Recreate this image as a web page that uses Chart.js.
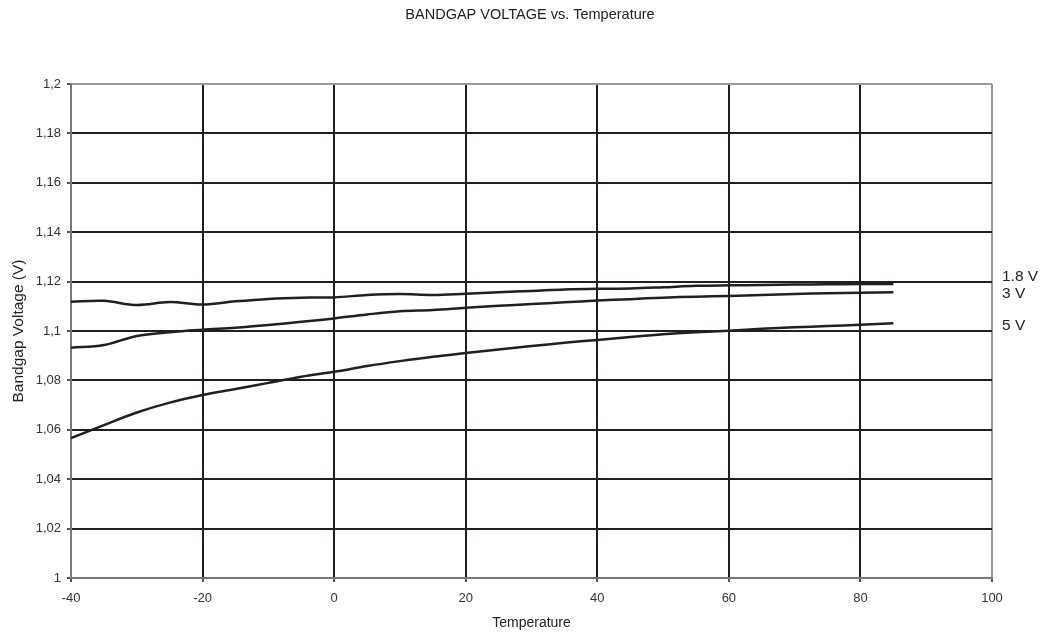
<!DOCTYPE html>
<html>
<head>
<meta charset="utf-8">
<script src="https://cdn.jsdelivr.net/npm/chart.js@4/dist/chart.umd.min.js"></script>
<style>
  html, body { margin: 0; padding: 0; background: #fff; }
  #wrap { width: 1052px; height: 635px; }
</style>
</head>
<body>
<div id="wrap"><canvas id="bandgapChart" width="1052" height="635"></canvas></div>
<script>
// temperatures (°C)
const temps = [-40, -35, -30, -25, -20, -15, -10, -5, 0, 5, 10, 15, 20, 25, 30, 35, 40, 45, 50, 55, 60, 65, 70, 75, 80, 85];

// bandgap voltage per supply
const v18 = [1.1118, 1.1122, 1.1105, 1.1117, 1.1107, 1.1120, 1.1130, 1.1135, 1.1136, 1.1146, 1.1150, 1.1146, 1.1151,
  1.1157, 1.1162, 1.1168, 1.1171, 1.1172, 1.1177, 1.1183, 1.1185, 1.1186, 1.1188, 1.1189, 1.1190, 1.1190];
const v3 = [1.0932, 1.0943, 1.0980, 1.0995, 1.1005, 1.1013, 1.1024, 1.1037, 1.1051, 1.1067, 1.1080, 1.1085, 1.1094,
  1.1102, 1.1109, 1.1116, 1.1123, 1.1129, 1.1135, 1.1139, 1.1142, 1.1146, 1.1150, 1.1153, 1.1155, 1.1157];
const v5 = [1.0566, 1.0619, 1.0670, 1.0710, 1.0741, 1.0765, 1.0790, 1.0815, 1.0835, 1.0858, 1.0878, 1.0896, 1.0911,
  1.0925, 1.0939, 1.0952, 1.0964, 1.0976, 1.0987, 1.0995, 1.1001, 1.1009, 1.1015, 1.1020, 1.1025, 1.1031];

const seriesNames = ['1.8 V', '3 V', '5 V'];
// label positions at the right edge (value on y axis)
const labelValues = [1.1219, 1.1150, 1.1023];

const xTicks = [-40, -20, 0, 20, 40, 60, 80, 100];

const FONT = 'Arial, "Liberation Sans", sans-serif';

function toPoints(ys) {
  return temps.map((t, i) => ({ x: t, y: ys[i] }));
}

// title and series labels drawn on the canvas
const textPlugin = {
  id: 'textPlugin',
  afterDraw(chart) {
    const { ctx, chartArea, scales } = chart;
    ctx.save();
    ctx.fillStyle = '#222';
    ctx.font = '14.5px ' + FONT;
    ctx.textAlign = 'center';
    ctx.textBaseline = 'middle';
    ctx.fillText('BANDGAP VOLTAGE vs. Temperature', 530, 15);

    ctx.font = '15.5px ' + FONT;
    ctx.textAlign = 'left';
    seriesNames.forEach((name, i) => {
      ctx.fillText(name, chartArea.right + 10, scales.y.getPixelForValue(labelValues[i]));
    });
    ctx.restore();
  },
};

const lineStyle = {
  borderColor: '#231f20',
  borderWidth: 2.5,
  pointRadius: 0,
  fill: false,
  tension: 0.35,
};

const chart = new Chart(document.getElementById('bandgapChart').getContext('2d'), {
  type: 'line',
  data: {
    datasets: [
      { label: seriesNames[0], data: toPoints(v18), ...lineStyle },
      { label: seriesNames[1], data: toPoints(v3), ...lineStyle },
      { label: seriesNames[2], data: toPoints(v5), ...lineStyle },
    ],
  },
  options: {
    responsive: false,
    animation: false,
    layout: { padding: { top: 84, right: 60, left: 0, bottom: 0 } },
    plugins: {
      legend: { display: false },
      tooltip: { enabled: false },
      title: { display: false },
    },
    scales: {
      x: {
        type: 'linear',
        min: -40,
        max: 100,
        afterBuildTicks: (scale) => {
          scale.ticks = xTicks.map((v) => ({ value: v }));
        },
        afterFit: (scale) => {
          scale.height = 57;
        },
        grid: {
          color: (c) => (c.tick && c.tick.value === 100 ? '#9a9a9a' : '#231f20'),
          lineWidth: 2,
          tickLength: 4,
          tickColor: '#555',
        },
        border: { color: '#777', width: 2 },
        ticks: {
          color: '#333',
          font: { family: FONT, size: 13 },
          padding: 9,
          maxRotation: 0,
        },
        title: {
          display: true,
          text: 'Temperature',
          color: '#222',
          font: { family: FONT, size: 14 },
          padding: { top: 0, bottom: 3 },
        },
      },
      y: {
        min: 1,
        max: 1.2,
        afterFit: (scale) => {
          scale.width = 71;
        },
        grid: {
          color: (c) => (c.tick && Math.abs(c.tick.value - 1.2) < 1e-9 ? '#9a9a9a' : '#231f20'),
          lineWidth: 2,
          tickLength: 4,
          tickColor: '#555',
        },
        border: { color: '#777', width: 2 },
        ticks: {
          stepSize: 0.02,
          color: '#333',
          font: { family: FONT, size: 13 },
          padding: 6,
          callback: (v) => String(Math.round(v * 100) / 100).replace('.', ','),
        },
        title: {
          display: true,
          text: 'Bandgap Voltage (V)',
          color: '#222',
          font: { family: FONT, size: 15.5 },
          padding: { top: 9, bottom: 0 },
        },
      },
    },
  },
  plugins: [textPlugin],
});
</script>
</body>
</html>
